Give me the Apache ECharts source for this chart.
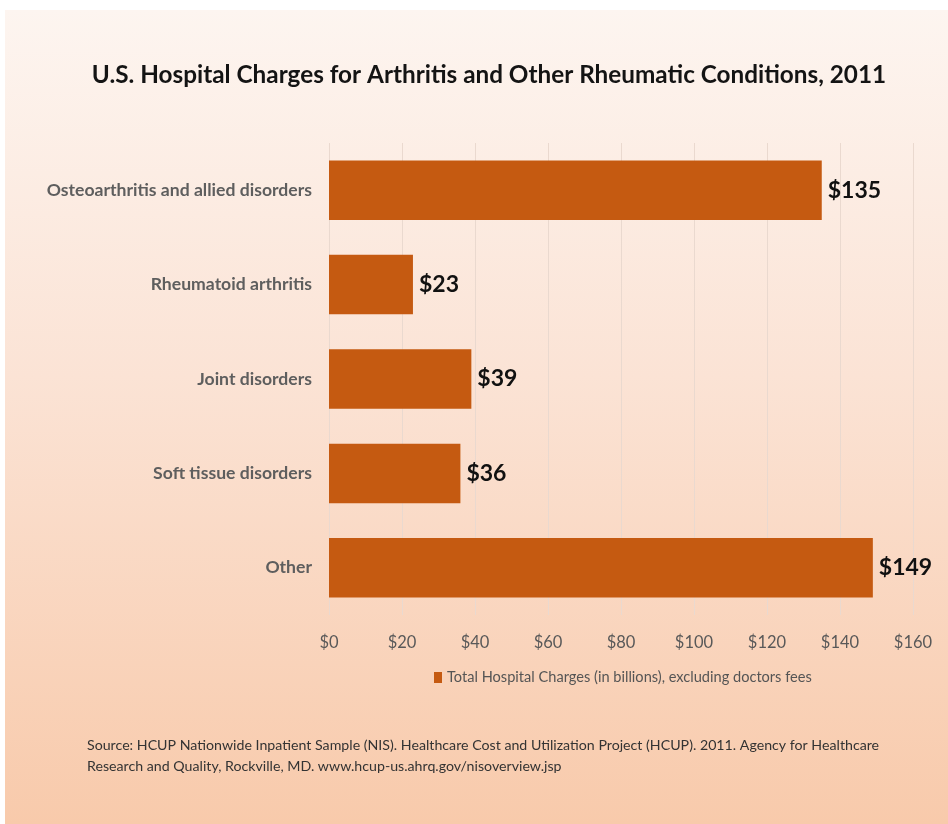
<!DOCTYPE html>
<html>
<head>
<meta charset="utf-8">
<script src="https://cdn.jsdelivr.net/npm/echarts@6/dist/echarts.min.js"></script>
<style>
html,body{margin:0;padding:0;background:#ffffff;}
#chart{width:948px;height:824px;}
</style>
</head>
<body>
<div id="chart"></div>
<script>
const categories = ["Osteoarthritis and allied disorders", "Rheumatoid arthritis", "Joint disorders", "Soft tissue disorders", "Other"];
const charges = [135, 23, 39, 36, 149];
const xTicks = [0, 20, 40, 60, 80, 100, 120, 140, 160];
const seriesName = "Total Hospital Charges (in billions), excluding doctors fees";
const titleText = "U.S. Hospital Charges for Arthritis and Other Rheumatic Conditions, 2011";
const sourceLines = ["Source: HCUP Nationwide Inpatient Sample (NIS). Healthcare Cost and Utilization Project (HCUP). 2011. Agency for Healthcare", "Research and Quality, Rockville, MD. www.hcup-us.ahrq.gov/nisoverview.jsp"];

const FONT = "Lato, 'Open Sans', sans-serif";
const chart = echarts.init(document.getElementById('chart'), null, {renderer: 'canvas'});
chart.setOption({
  animation: false,
  graphic: [
    {type: 'rect', z: -10, shape: {x: 5, y: 10, width: 943, height: 814},
     style: {fill: new echarts.graphic.LinearGradient(0, 0, 0, 1, [
       {offset: 0, color: '#fdf5f0'},
       {offset: 0.45, color: '#fbe3d5'},
       {offset: 1, color: '#f8caab'}
     ])}, silent: true},
    {type: 'text', x: 489, y: 75, style: {text: titleText, align: 'center', verticalAlign: 'middle',
      font: "bold 24.3px " + FONT, fill: '#141414'}},
    {type: 'text', x: 87, y: 745, style: {text: sourceLines[0], verticalAlign: 'middle',
      font: "14.2px " + FONT, fill: '#333333'}},
    {type: 'text', x: 87, y: 766, style: {text: sourceLines[1], verticalAlign: 'middle',
      font: "14.2px " + FONT, fill: '#333333'}}
  ],
  legend: {
    left: 429, top: 665, itemWidth: 8, itemHeight: 11, itemGap: 5,
    textStyle: {fontFamily: FONT, fontSize: 14.6, color: '#555555'},
    data: [{name: seriesName, icon: 'rect'}]
  },
  grid: {left: 329, right: 35, top: 143, height: 472, containLabel: false},
  xAxis: {
    type: 'value', min: 0, max: 160, interval: 20,
    axisLine: {show: false}, axisTick: {show: false},
    splitLine: {show: true, lineStyle: {color: '#ead9cf', width: 1}},
    axisLabel: {margin: 19, fontFamily: FONT, fontSize: 16.5, color: '#595959',
      formatter: v => xTicks.includes(v) ? '$' + v : ''}
  },
  yAxis: {
    type: 'category', data: categories, inverse: true,
    axisLine: {show: false}, axisTick: {show: false},
    axisLabel: {margin: 17, fontFamily: FONT, fontSize: 17.6, color: '#5e5e5e', fontWeight: 'bold'}
  },
  series: [{
    name: seriesName, type: 'bar', data: charges, barCategoryGap: '37%',
    itemStyle: {color: '#c55a11'},
    label: {show: true, position: 'right', distance: 6, formatter: p => '$' + p.value,
      fontFamily: FONT, fontSize: 23, fontWeight: 'bold', color: '#111111'}
  }]
});
</script>
</body>
</html>
